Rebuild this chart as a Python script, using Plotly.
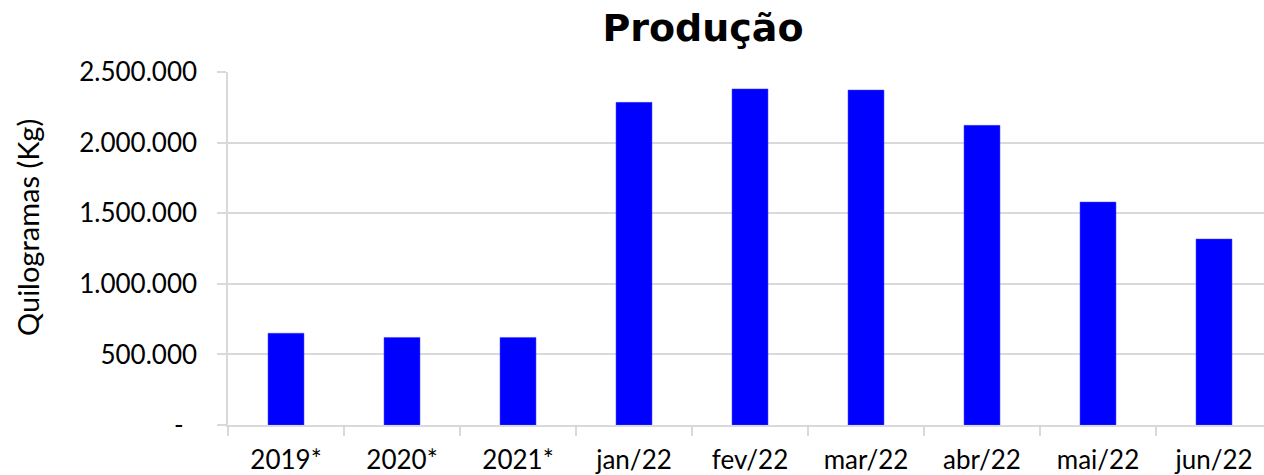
import plotly.graph_objects as go

categories = ["2019*", "2020*", "2021*", "jan/22", "fev/22", "mar/22", "abr/22", "mai/22", "jun/22"]
producao_kg = [650000, 620000, 620000, 2285000, 2380000, 2372000, 2122000, 1579000, 1317000]
y_tick_vals = [0, 500000, 1000000, 1500000, 2000000, 2500000]
y_tick_text = ["-\u00a0\u00a0", "500.000", "1.000.000", "1.500.000", "2.000.000", "2.500.000"]

W, H = 1264, 475
L, R, T, B = 228, 0, 72, 50
grid = "#d9d9d9"
font_main = "Lato, 'Open Sans', sans-serif"

fig = go.Figure()
fig.add_trace(go.Bar(
    x=categories, y=producao_kg,
    marker=dict(color="#0000ff", line=dict(color="#3f3fff", width=0.5)),
    width=0.31,
))

fig.update_layout(
    width=W, height=H,
    margin=dict(l=L, r=R, t=T, b=B, autoexpand=False),
    plot_bgcolor="white", paper_bgcolor="white",
    showlegend=False,
    font=dict(family=font_main, size=26, color="#000000"),
    title=dict(text="<b>Produção</b>", x=703 / W, xref="container", xanchor="center",
               y=1 - 28 / H, yref="container", yanchor="middle",
               font=dict(family="'DejaVu Sans', Verdana, sans-serif", size=38, color="#000000")),
)
fig.update_xaxes(
    type="category", automargin=False,
    range=[-0.5, 8.5 - 8 / 116],
    showline=True, linecolor=grid, linewidth=1.5,
    ticks="outside", tickson="boundaries", ticklen=9, tickcolor=grid, tickwidth=1.5,
    ticklabelstandoff=11,
    showgrid=False,
    tickfont=dict(family=font_main, size=26, color="#000000"),
)
fig.update_yaxes(
    automargin=False,
    range=[0, 2500000],
    tickvals=y_tick_vals, ticktext=y_tick_text,
    showgrid=True, gridcolor=grid, gridwidth=1.5,
    zeroline=False,
    showline=True, linecolor=grid, linewidth=1.5,
    ticks="outside", ticklen=9, tickcolor=grid, tickwidth=1.5,
    ticklabelstandoff=15,
    tickfont=dict(family=font_main, size=26, color="#000000"),
)
fig.add_annotation(
    text="Quilogramas (Kg)", textangle=-90,
    xref="paper", yref="paper",
    x=(27 - L) / (W - L - R), y=(425 - 228) / (H - T - B),
    xanchor="center", yanchor="middle", showarrow=False,
    font=dict(family=font_main, size=29, color="#000000"),
)

fig.write_html("out.html", config={"displayModeBar": False},
               post_script="document.body.style.margin='0px';document.body.style.overflow='hidden';")
